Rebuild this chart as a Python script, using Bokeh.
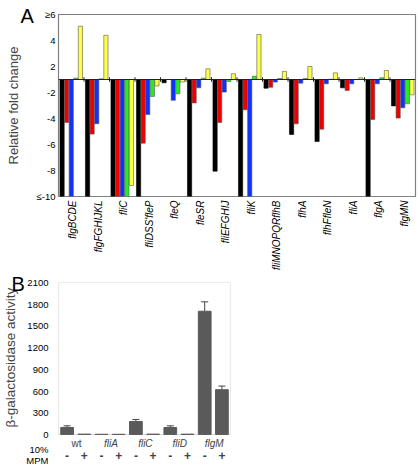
import math
from bokeh.plotting import figure
from bokeh.layouts import column
from bokeh.models import (FixedTicker, Label, Whisker, TeeHead, ColumnDataSource,
                          BoxAnnotation, Title)
from bokeh.embed import file_html
from bokeh.resources import INLINE

# ---------------- data: panel A (relative fold change; -10 means <=-10) -------------
genes = ["flgBCDE", "flgFGHIJKL", "fliC", "fliDSS'fleP", "fleQ", "fleSR", "fliEFGHIJ",
         "fliK", "fliMNOPQRflhB", "flhA", "flhFfleN", "fliA", "flgA", "flgMN"]
black_fc = [-10, -10, -10, -10, -1.25, -10, -8.05, -10, -1.67, -5.23, -5.77, -1.64, -10, -3.03]
red_fc = [-4.3, -5.2, -10, -5.9, -1.0, -2.8, -4.3, -3.33, -1.6, -4.41, -4.82, -1.85, -4.08, -3.97]
blue_fc = [-10, -4.4, -10, -3.7, -2.6, -1.64, -1.97, -10, -1.2, -1.28, -1.33, -1.33, -1.33, -3.18]
green_fc = [1.1, 1.05, -10, -2.3, -2.1, 1.1, -1.15, 1.25, 1.08, 1.08, 1.02, 1.0, 1.13, -2.87]
yellow_fc = [5.1, 4.4, -9.15, -1.5, -1.2, 1.82, 1.44, 4.46, 1.62, 2.0, 1.51, 1.13, 1.69, -2.18]
a_tick_labels = ["\u22656", "4", "2", "-2", "-4", "-6", "-8", "\u2264-10"]
a_tick_values = [6, 4, 2, -2, -4, -6, -8, -10]

# ---------------- data: panel B ----------------
strains = ["wt", "fliA", "fliC", "fliD", "flgM"]
minus_vals = [97, 3, 180, 97, 1703]
minus_err = [23, 0, 28, 23, 130]
plus_vals = [5, 3, 5, 5, 619]
plus_err = [0, 0, 0, 0, 50]
b_ticks = [0, 300, 600, 900, 1200, 1500, 1800, 2100]

FONT = "Liberation Sans"


def fc_to_plot(v):
    # fold changes between -1 and 1 collapse onto the baseline
    return v - 1 if v >= 1 else v + 1


def panel_title(letter, offset, standoff):
    t = Title(text=letter, align="left", offset=offset, text_font=FONT,
              text_font_size="20px", text_font_style="normal", vertical_align="bottom",
              text_color="#000000")
    try:
        t.standoff = standoff
    except Exception:
        t.standoff = 0
    return t


# ================= Panel A =================
WA, HA = 417, 272
LA, RA, TA, BA = 41, 1, 14, 75
pA = figure(width=WA, height=HA, x_range=(0, 14), y_range=(-9, 5),
            output_backend="svg", toolbar_location=None,
            title=panel_title("A", -38, -24),
            min_border_left=LA, min_border_right=RA, min_border_top=TA, min_border_bottom=BA)

colors = ["#000000", "#ee0000", "#1030ff", "#22ee22", "#ffff44"]
series = [black_fc, red_fc, blue_fc, green_fc, yellow_fc]
for j, (vals, col) in enumerate(zip(series, colors)):
    xs = [i + 0.14 + j * 0.18 for i in range(len(genes))]
    tops = [max(fc_to_plot(v), 0) for v in vals]
    bots = [min(fc_to_plot(v), 0) for v in vals]
    lc = "#000000" if j == 0 else "#555555"
    pA.vbar(x=xs, top=tops, bottom=bots, width=0.165, fill_color=col,
            line_color=lc, line_width=0.6)

pA.segment(x0=[0], y0=[0], x1=[len(genes)], y1=[0], line_color="#222222", line_width=1)
bx = list(range(1, len(genes)))
pA.segment(x0=bx, y0=[-0.17] * len(bx), x1=bx, y1=[0.17] * len(bx),
           line_color="#222222", line_width=1)

pA.xgrid.visible = False
pA.ygrid.visible = False
pA.outline_line_color = "#808080"
pA.outline_line_width = 1.2

pA.yaxis.ticker = FixedTicker(ticks=[fc_to_plot(v) for v in a_tick_values])
pA.yaxis.major_label_overrides = {fc_to_plot(v): t for v, t in zip(a_tick_values, a_tick_labels)}
pA.yaxis.major_label_text_font = FONT
pA.yaxis.major_label_text_font_size = "9.5px"
pA.yaxis.major_label_text_color = "#000000"
pA.yaxis.major_tick_in = 0
pA.yaxis.major_tick_out = 0
pA.yaxis.minor_tick_in = 0
pA.yaxis.minor_tick_out = 0
pA.yaxis.major_label_standoff = 3
pA.yaxis.axis_line_color = None
pA.yaxis.axis_label = "Relative fold change"
pA.yaxis.axis_label_text_font = FONT
pA.yaxis.axis_label_text_font_size = "13px"
pA.yaxis.axis_label_text_font_style = "normal"
pA.yaxis.axis_label_standoff = 13

pA.xaxis.ticker = FixedTicker(ticks=[i + 0.55 for i in range(len(genes))])
pA.xaxis.major_label_overrides = {i + 0.55: g for i, g in enumerate(genes)}
pA.xaxis.major_label_orientation = math.pi / 2
pA.xaxis.major_label_text_font = FONT
pA.xaxis.major_label_text_font_style = "italic"
pA.xaxis.major_label_text_font_size = "10px"
pA.xaxis.major_label_text_color = "#000000"
pA.xaxis.major_tick_in = 0
pA.xaxis.major_tick_out = 0
pA.xaxis.minor_tick_in = 0
pA.xaxis.minor_tick_out = 0
pA.xaxis.major_label_standoff = 4
pA.xaxis.axis_line_color = None

# ================= Panel B =================
WB, HB = 232, 194
LB, RB, TB, BB = 52, 2, 10, 0
ZERO_PX = 152          # frame pixels from top (2100) to zero line
BELOW_PX = HB - TB - BB - ZERO_PX
upp = 2100 / ZERO_PX   # data units per pixel
pB = figure(width=WB, height=HB, x_range=(0, 10), y_range=(-BELOW_PX * upp, 2100),
            output_backend="svg", toolbar_location=None,
            title=panel_title("B", -47, -24),
            min_border_left=LB, min_border_right=RB, min_border_top=TB, min_border_bottom=BB)

xm = [2 * i + 0.5 for i in range(len(strains))]
xp = [2 * i + 1.5 for i in range(len(strains))]
pB.vbar(x=xm, top=minus_vals, width=0.74, fill_color="#5a5a5a", line_color="#5a5a5a")
pB.vbar(x=xp, top=plus_vals, width=0.74, fill_color="#5a5a5a", line_color="#5a5a5a")

ex, elo, ehi = [], [], []
for x, v, e in list(zip(xm, minus_vals, minus_err)) + list(zip(xp, plus_vals, plus_err)):
    if e > 0:
        ex.append(x)
        elo.append(v)
        ehi.append(v + e)
esrc = ColumnDataSource(dict(x=ex, lo=elo, hi=ehi))
pB.add_layout(Whisker(source=esrc, base="x", lower="lo", upper="hi",
                      line_color="#444444", line_width=1,
                      upper_head=TeeHead(size=7, line_color="#444444", line_width=1),
                      lower_head=None))

pB.add_layout(BoxAnnotation(left=0, right=10, bottom=0, top=2100, fill_alpha=0,
                            line_color="#707070", line_width=1.2))

pB.xgrid.visible = False
pB.ygrid.visible = False
pB.outline_line_color = None
pB.xaxis.visible = False

y10 = -15 * upp
ympm = -26 * upp
pB.yaxis.ticker = FixedTicker(ticks=b_ticks + [y10, ympm])
pB.yaxis.major_label_overrides = {y10: "10%", ympm: "MPM"}
pB.yaxis.major_label_text_font = FONT
pB.yaxis.major_label_text_font_size = "9.5px"
pB.yaxis.major_label_text_color = "#000000"
pB.yaxis.major_tick_in = 0
pB.yaxis.major_tick_out = 0
pB.yaxis.minor_tick_in = 0
pB.yaxis.minor_tick_out = 0
pB.yaxis.major_label_standoff = 10
pB.yaxis.axis_line_color = None
# leading no-break spaces lift the centred label up to the box's own height
pB.yaxis.axis_label = "\u00a0" * 9 + "\u03b2-galactosidase activity"
pB.yaxis.axis_label_text_font = FONT
pB.yaxis.axis_label_text_font_size = "13.5px"
pB.yaxis.axis_label_text_font_style = "normal"
pB.yaxis.axis_label_standoff = 5

for i, s in enumerate(strains):
    pB.add_layout(Label(x=2 * i + 1.05, y=-9 * upp, text=s, text_font=FONT,
                        text_font_size="10px", text_align="center", text_baseline="middle",
                        text_font_style="normal" if s == "wt" else "italic"))
    pB.add_layout(Label(x=2 * i + 0.5, y=-21 * upp, text="-", text_font=FONT,
                        text_font_size="12px", text_align="center", text_baseline="middle",
                        text_font_style="bold"))
    pB.add_layout(Label(x=2 * i + 1.5, y=-21 * upp, text="+", text_font=FONT,
                        text_font_size="12px", text_align="center", text_baseline="middle",
                        text_font_style="bold"))

for p in (pA, pB):
    p.background_fill_color = "white"
    p.border_fill_color = "white"

layout = column(pA, pB, spacing=0)
open("out.html", "w").write(file_html(layout, INLINE))
